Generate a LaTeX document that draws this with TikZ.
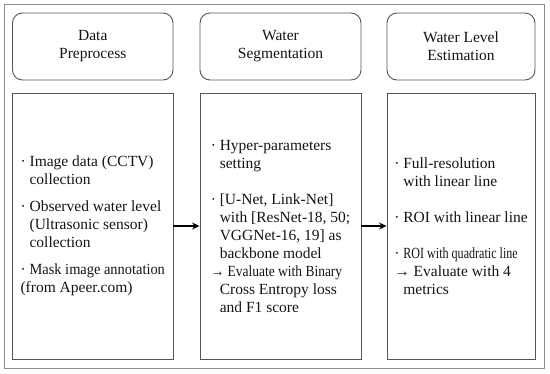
\documentclass[tikz,border=0pt]{standalone}
\usepackage{fontspec}
\setmainfont{Liberation Serif}
\usepackage{tikz}
\usetikzlibrary{calc, positioning, arrows.meta}
\usepackage{xcolor}
\definecolor{frameGray}{RGB}{140, 140, 140}
\definecolor{boxGray}{RGB}{85, 85, 85}
\definecolor{textDark}{RGB}{20, 20, 20}
\newcommand{\bdot}{\textperiodcentered\ }
\newcommand{\ind}{\hphantom{\textperiodcentered\ }}
\newcommand{\squeeze}[2]{{\addfontfeature{FakeStretch=#1}#2}}

\begin{document}
\begin{tikzpicture}[x=1pt, y=-1pt, >={Stealth[length=7.5pt, width=7pt]},
  font=\fontsize{15.5}{18}\selectfont,
  head/.style={draw=boxGray, line width=0.9pt, rounded corners=10pt, minimum height=67pt, align=center, text=textDark, inner sep=0pt},
  body/.style={draw=boxGray, line width=0.9pt, minimum height=266pt, align=left, text=textDark, inner sep=0pt}]
  \useasboundingbox (0,0) rectangle (550,373);
  \draw[frameGray, line width=0.8pt] (4,4) rectangle (544,368);

  % stage titles
  \node[head, minimum width=160.5pt] (h1) at (92.75,46.5) {Data\\Preprocess};
  \node[head, minimum width=161pt] (h2) at (280.5,46.5) {Water\\Segmentation};
  \node[head, minimum width=148pt] (h3) at (461,46.5) {Water Level\\Estimation};

  % stage contents
  \node[body, minimum width=160.5pt] (b1) at (92.75,226) {\bdot Image data (CCTV)\\ \ind collection\\[9pt]
    \bdot Observed water level\\ \ind (Ultrasonic sensor)\\ \ind collection\\[9pt]
    \bdot \squeeze{0.93}{Mask image annotation}\\(from Apeer.com)};
  \node[body, minimum width=161pt] (b2) at (280.5,226) {\bdot Hyper-parameters\\ \ind setting\\[18pt]
    \bdot [U-Net, Link-Net]\\ \ind with [ResNet-18, 50;\\ \ind VGGNet-16, 19] as\\ \ind backbone model\\
    \squeeze{0.87}{→ Evaluate with Binary}\\ \ind Cross Entropy loss\\ \ind and F1 score};
  \node[body, minimum width=148pt] (b3) at (461,226) {\bdot Full-resolution\\ \ind with linear line\\[18pt]
    \bdot ROI with linear line\\[18pt]
    \bdot \squeeze{0.78}{ROI with quadratic line}\\ → Evaluate with 4\\ \ind metrics};

  \draw[->, line width=1.4pt] (b1) -- (b2);
  \draw[->, line width=1.4pt] (b2) -- (b3);
\end{tikzpicture}
\end{document}
